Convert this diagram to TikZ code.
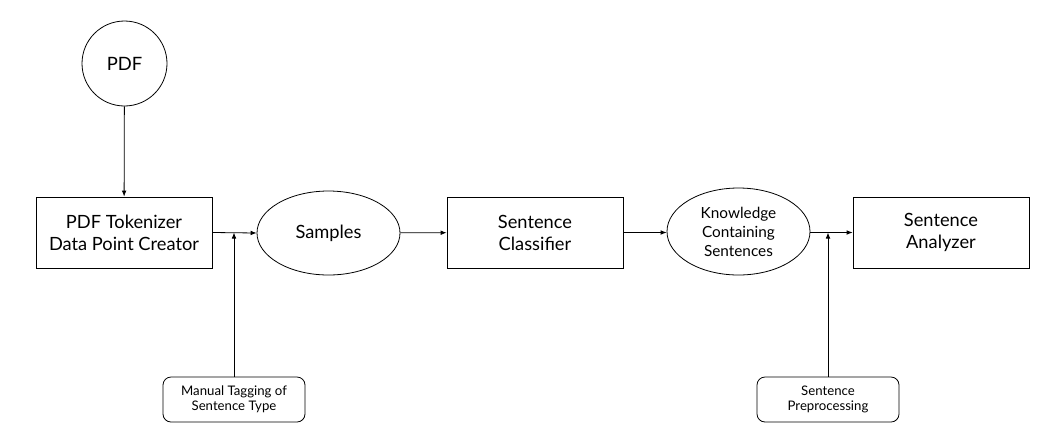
\documentclass[tikz,border=0pt]{standalone}
\usepackage{fontspec}
\setmainfont{Lato}
\usetikzlibrary{shapes.geometric,arrows.meta}
\begin{document}
\begin{tikzpicture}[x=0.75pt,y=-0.75pt,
  every node/.style={draw,line width=0.6pt,inner sep=0pt,align=center},
  bigfont/.style={font=\fontsize{13.7}{16.5}\selectfont},
  midfont/.style={font=\fontsize{11.5}{14.2}\selectfont},
  smallfont/.style={font=\fontsize{9.9}{10.9}\selectfont},
  procbox/.style={rectangle,minimum width=132pt,minimum height=53.25pt,bigfont},
  dataell/.style={ellipse,minimum width=107.25pt},
  inbox/.style={rectangle,rounded corners=6pt,minimum width=106.5pt,minimum height=33.75pt,smallfont},
  conn/.style={line width=0.6pt,-{Latex[length=4.5pt,width=3.5pt]}},
  plain/.style={line width=0.6pt}]
\useasboundingbox (0,0) rectangle (1063,440);
\node[circle,minimum size=63.75pt,font=\fontsize{13.8}{16}\selectfont] (pdf) at (124.5,63.5) {PDF};
\node[procbox] (tok) at (124,232.5) {PDF Tokenizer\\Data Point Creator};
\node[dataell,minimum height=63pt,bigfont] (samp) at (328.5,233) {Samples};
\node[procbox] (cls) at (535,232.5) {Sentence\\Classifier};
\node[dataell,minimum height=65.25pt,midfont] (know) at (738.5,231.5) {Knowledge\\Containing\\Sentences};
\node[procbox] (ana) at (941,232.5) {Sentence\\Analyzer};
\node[inbox] (man) at (234,399.5) {Manual Tagging of\\Sentence Type};
\node[inbox] (prep) at (828,399.5) {Sentence\\Preprocessing};
\coordinate (j1) at (234,232.5);
\coordinate (j2) at (828,232.5);
\draw[conn] (pdf) -- (tok);
\draw[conn] (tok.east) -- (samp.west);
\draw[conn] (samp) -- (cls);
\draw[conn] (cls.east) -- (know.west |- cls.east);
\draw[conn] (know.east |- ana.west) -- (ana.west);
\draw[conn] (man) -- (j1);
\draw[conn] (prep) -- (j2);
\end{tikzpicture}
\end{document}
